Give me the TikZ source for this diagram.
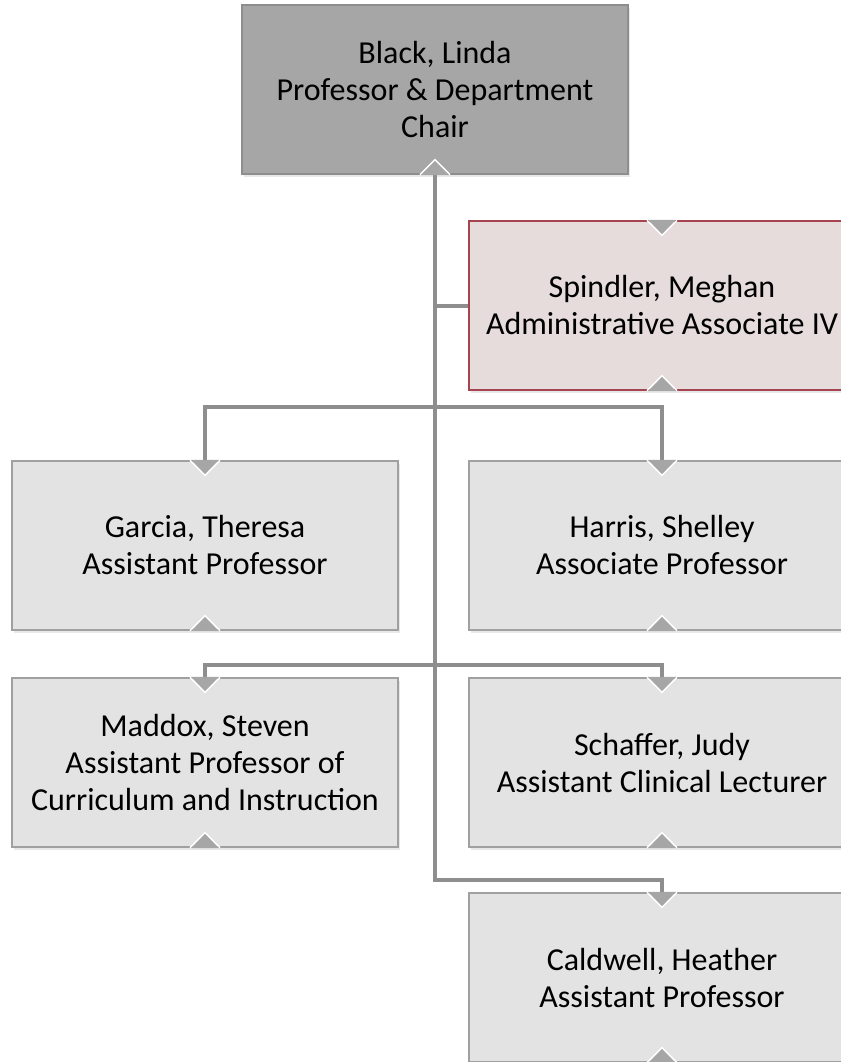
\documentclass[tikz,border=0pt]{standalone}
\usepackage{fontspec}
\setmainfont{Carlito}
\usepackage{tikz}
\usetikzlibrary{positioning,shadows}
\definecolor{kastenrand}{HTML}{A0A0A0}
\definecolor{kastenhell}{HTML}{E3E3E3}
\definecolor{kastenchef}{HTML}{A6A6A6}
\definecolor{chefrand}{HTML}{8E8E8E}
\definecolor{kastenrosa}{HTML}{E6DCDC}
\definecolor{rosarand}{HTML}{A5444F}
\definecolor{linienfarbe}{HTML}{8E8E8E}
\definecolor{spitze}{HTML}{A6A6A6}

\begin{document}
\begin{tikzpicture}[x=1pt, y=1pt]
	
	\tikzset{
		kasten/.style={rectangle, draw=kastenrand, line width=1.2pt, fill=kastenhell,
			minimum width=386pt, minimum height=169pt, align=center,
			font=\fontsize{32}{37}\selectfont,
			drop shadow={opacity=0.18, shadow xshift=2pt, shadow yshift=-3pt}},
		chef/.style={kasten, fill=kastenchef, draw=chefrand},
		assistenz/.style={kasten, fill=kastenrosa, draw=rosarand},
		linie/.style={draw=linienfarbe, line width=4pt},
		spitzeform/.style={fill=spitze},
		spitzerand/.style={draw=white, line width=1.5pt}
	}
	
	% Rahmen
	\useasboundingbox (0,0) rectangle (840,-1062);
	
	% Verbindungslinien
	\coordinate (ast) at (435,-880);
	
	% Kaesten
	\node[chef] (chair) at (435,-89.5) {Black, Linda\\Professor \& Department\\Chair};
	\node[assistenz] (spindler) at (662,-305.5) {Spindler, Meghan\\Administrative Associate IV};
	\node[kasten] (garcia) at (205,-545.5) {Garcia, Theresa\\Assistant Professor};
	\node[kasten] (harris) at (662,-545.5) {Harris, Shelley\\Associate Professor};
	\node[kasten] (maddox) at (205,-762.5) {Maddox, Steven\\Assistant Professor of\\Curriculum and Instruction};
	\node[kasten] (schaffer) at (662,-762.5) {Schaffer, Judy\\Assistant Clinical Lecturer};
	\node[kasten] (caldwell) at (662,-977.5) {Caldwell, Heather\\Assistant Professor};
	
	\draw[linie] (chair.south) -- (ast) -| (caldwell.north);
	\draw[linie] (chair.south |- spindler.west) -- (spindler.west);
	\draw[linie] (garcia.north) -- ++(0,53) -| (harris.north);
	\draw[linie] (maddox.north) -- ++(0,12) -| (schaffer.north);
	
	% Spitzen oben
	\foreach \n in {spindler,garcia,harris,maddox,schaffer,caldwell}{
		\fill[spitzeform] (\n.north) ++(-14,0.6) -- ++(14,-14.6) -- ++(14,14.6) -- cycle;
		\draw[spitzerand] (\n.north) ++(-15,0) -- ++(15,-15) -- ++(15,15);
	}
	% Spitzen unten
	\foreach \n in {chair,spindler,garcia,harris,maddox,schaffer,caldwell}{
		\fill[spitzeform] (\n.south) ++(-14,-0.6) -- ++(14,14.6) -- ++(14,-14.6) -- cycle;
		\draw[spitzerand] (\n.south) ++(-15,0) -- ++(15,15) -- ++(15,-15);
	}
	
\end{tikzpicture}
\end{document}
